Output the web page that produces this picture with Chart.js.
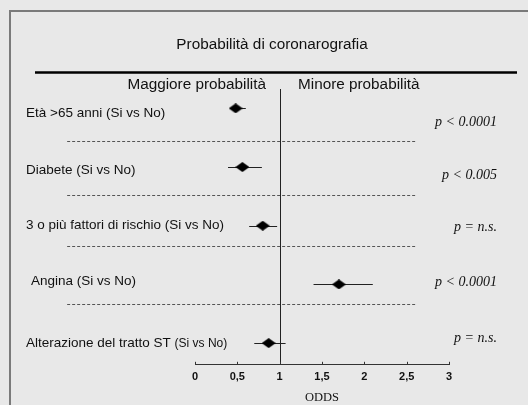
<!DOCTYPE html>
<html>
<head>
<meta charset="utf-8">
<script src="https://cdn.jsdelivr.net/npm/chart.js@4"></script>
<style>
html,body{margin:0;padding:0;background:#e8e8e8;}
#wrap{width:528px;height:405px;position:relative;}
</style>
</head>
<body>
<div id="wrap"><canvas id="c" width="528" height="405"></canvas></div>
<script>
// ---- data ----
const categories = [
  'Età >65 anni (Si vs No)',
  'Diabete (Si vs No)',
  '3 o più fattori di rischio (Si vs No)',
  'Angina (Si vs No)',
  'Alterazione del tratto ST'
];
const oddsRatio = [0.48, 0.56, 0.80, 1.70, 0.87];
const ciLower   = [0.42, 0.39, 0.64, 1.40, 0.70];
const ciUpper   = [0.60, 0.79, 0.97, 2.10, 1.07];
const pValues   = ['p < 0.0001', 'p < 0.005', 'p = n.s.', 'p < 0.0001', 'p = n.s.'];
const rowPos    = [5, 4, 3, 2, 1];
const tickValues = [0, 0.5, 1, 1.5, 2, 2.5, 3];
const tickLabels = ['0', '0,5', '1', '1,5', '2', '2,5', '3'];

const SANS = '"Liberation Sans", Arial, sans-serif';
const SERIF = '"Liberation Serif", "Times New Roman", serif';

// diamond marker
function diamond(w, h) {
  const cv = document.createElement('canvas');
  cv.width = w; cv.height = h;
  const g = cv.getContext('2d');
  g.fillStyle = '#000';
  g.beginPath();
  g.moveTo(w / 2, 0); g.lineTo(w, h / 2); g.lineTo(w / 2, h); g.lineTo(0, h / 2);
  g.closePath(); g.fill();
  return cv;
}
const marker = diamond(14, 10);

const forestPlugin = {
  id: 'forest',
  beforeDraw(chart) {
    const ctx = chart.ctx;
    const xs = chart.scales.x, ys = chart.scales.y;
    const ca = chart.chartArea;
    ctx.save();
    // background
    ctx.fillStyle = '#e8e8e8';
    ctx.fillRect(0, 0, chart.width, chart.height);
    // frame
    ctx.strokeStyle = '#7a7a7a';
    ctx.lineWidth = 2;
    ctx.strokeRect(10, 11, 700, 700);
    // title
    ctx.fillStyle = '#111';
    ctx.font = '15.3px ' + SANS;
    ctx.textAlign = 'center';
    ctx.textBaseline = 'middle';
    ctx.fillText('Probabilità di coronarografia', 272, 45);
    // thick rule
    ctx.strokeStyle = '#000';
    ctx.lineWidth = 2.5;
    ctx.beginPath(); ctx.moveTo(35, 72.5); ctx.lineTo(517, 72.5); ctx.stroke();
    // headers
    ctx.textAlign = 'right';
    ctx.fillText('Maggiore probabilità', 266, 85);
    ctx.textAlign = 'left';
    ctx.fillText('Minore probabilità', 298, 85);
    // dashed separators
    const seps = [4.45, 3.53, 2.65, 1.66];
    ctx.strokeStyle = '#555';
    ctx.lineWidth = 1;
    ctx.setLineDash([3, 2]);
    seps.forEach(v => {
      const y = Math.round(ys.getPixelForValue(v)) + 0.5;
      ctx.beginPath();
      ctx.moveTo(xs.getPixelForValue(-1.51), y);
      ctx.lineTo(xs.getPixelForValue(2.6), y);
      ctx.stroke();
    });
    ctx.setLineDash([]);
    // reference line at 1
    const x1 = Math.round(xs.getPixelForValue(1)) + 0.5;
    ctx.strokeStyle = '#222';
    ctx.beginPath(); ctx.moveTo(x1, ca.top); ctx.lineTo(x1, ca.bottom); ctx.stroke();
    // axis tick marks (upward)
    ctx.strokeStyle = '#333';
    tickValues.forEach(v => {
      const x = Math.round(xs.getPixelForValue(v)) + 0.5;
      ctx.beginPath(); ctx.moveTo(x, ca.bottom); ctx.lineTo(x, ca.bottom - 3); ctx.stroke();
    });
    // row labels
    ctx.fillStyle = '#111';
    ctx.textAlign = 'left';
    ctx.textBaseline = 'alphabetic';
    const labelY = [9, 7, 3, 1, 4];
    const labelX = [26, 26, 26, 31, 26];
    categories.forEach((c, i) => {
      const y = ys.getPixelForValue(rowPos[i]) + labelY[i];
      ctx.font = '13.5px ' + SANS;
      ctx.fillText(c, labelX[i], y);
      if (i === 4) {
        const w = ctx.measureText(c + ' ').width;
        ctx.font = '12px ' + SANS;
        ctx.fillText('(Si vs No)', labelX[i] + w, y);
      }
    });
    // p-values
    ctx.textBaseline = 'middle';
    ctx.font = 'italic 14px ' + SERIF;
    ctx.textAlign = 'right';
    const pY = [14, 8, 2, -2, -5];
    pValues.forEach((p, i) => {
      ctx.fillText(p, 497, ys.getPixelForValue(rowPos[i]) + pY[i]);
    });
    // whiskers
    ctx.strokeStyle = '#222';
    ctx.lineWidth = 1;
    rowPos.forEach((r, i) => {
      const y = Math.round(ys.getPixelForValue(r)) + 0.5;
      ctx.beginPath();
      ctx.moveTo(xs.getPixelForValue(ciLower[i]), y);
      ctx.lineTo(xs.getPixelForValue(ciUpper[i]), y);
      ctx.stroke();
    });
    ctx.restore();
  }
};

new Chart(document.getElementById('c'), {
  type: 'scatter',
  data: {
    datasets: [{
      data: oddsRatio.map((v, i) => ({ x: v, y: rowPos[i] })),
      pointStyle: marker,
      pointRadius: 6,
      pointHoverRadius: 6
    }]
  },
  plugins: [forestPlugin],
  options: {
    responsive: false,
    animation: false,
    events: [],
    layout: { padding: { left: 195, right: 79, top: 89, bottom: 0 } },
    plugins: { legend: { display: false }, tooltip: { enabled: false } },
    scales: {
      x: {
        type: 'linear',
        min: 0, max: 3,
        afterBuildTicks: s => { s.ticks = tickValues.map(v => ({ value: v })); },
        ticks: {
          callback: (v) => tickLabels[tickValues.indexOf(v)],
          font: { family: SANS, size: 11, weight: 'bold' },
          color: '#111',
          padding: 6,
          maxRotation: 0,
          autoSkip: false
        },
        grid: { display: false, drawTicks: false },
        border: { display: true, color: '#333', width: 1 },
        title: {
          display: true,
          text: 'ODDS',
          font: { family: SERIF, size: 12.5 },
          color: '#111',
          padding: { top: 0, bottom: 0 }
        }
      },
      y: {
        type: 'linear',
        display: false,
        min: 0.63, max: 5.33
      }
    }
  }
});
</script>
</body>
</html>
